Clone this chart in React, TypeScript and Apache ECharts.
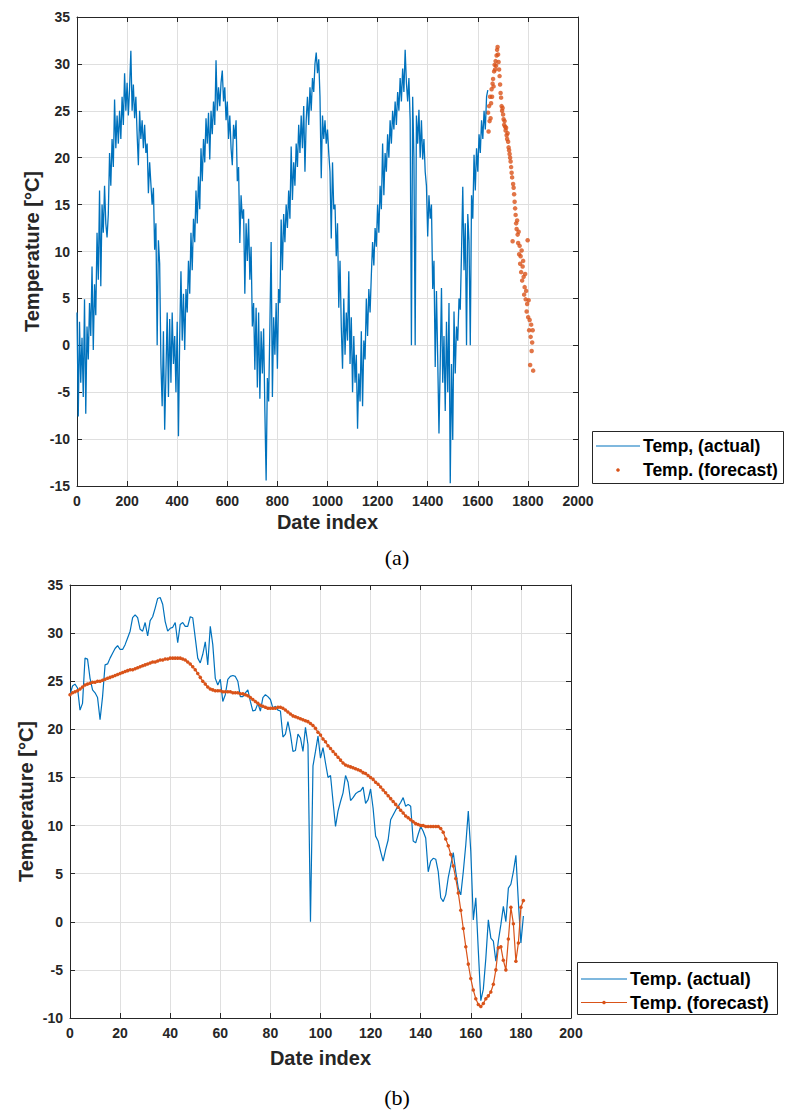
import React, { useEffect, useRef } from "react";
import * as echarts from "echarts";

// ---------- (a) actual temperature, one value every 5 date indices from 0 ----------
const ACTUAL_A_STEP = 5;
const actualA: number[] = [
  // 0 - 95
  3.5, -7.6, 2.5, -4.0, 0.8, -5.5, 4.9, -7.3, 2.0, -1.5, 4.5, 1.0, 8.4, -0.5, 6.5, 3.2, 12.0, 7.0, 16.5, 6.3,
  // 100 - 195
  15.0, 12.0, 17.0, 13.0, 11.5, 14.0, 20.5, 17.0, 22.0, 19.0, 26.2, 21.0, 24.5, 21.5, 25.0, 22.0, 26.5, 23.5, 29.0, 25.0,
  // 200 - 295
  28.0, 24.5, 27.5, 31.4, 25.0, 27.8, 24.2, 26.5, 22.5, 19.2, 25.0, 22.0, 24.0, 21.0, 23.5, 20.5, 21.5, 16.2, 19.5, 17.2,
  // 300 - 395
  15.0, 16.8, 10.2, 13.0, 0.0, 11.2, 8.7, -2.0, -6.5, 1.5, -9.0, -3.0, 3.5, -5.5, 2.8, -4.0, 3.5, -2.0, 1.0, -5.0,
  // 400 - 495
  2.5, -9.7, 1.0, 7.9, 0.5, 5.5, -0.5, 6.0, 3.5, 9.0, 5.5, 12.0, 8.0, 13.5, 11.0, 16.5, 13.0, 18.0, 14.5, 21.0,
  // 500 - 595
  17.5, 22.0, 19.5, 24.2, 21.5, 24.8, 19.8, 25.0, 22.5, 26.0, 23.5, 30.4, 25.0, 27.5, 25.5, 28.0, 29.3, 26.0, 27.5, 24.0,
  // 600 - 695
  26.0, 22.0, 24.5, 21.0, 19.2, 23.5, 22.0, 24.0, 17.5, 19.0, 10.9, 16.0, 13.5, 14.5, 5.5, 13.0, 9.0, 13.5, 7.0, 10.5,
  // 700 - 795
  2.0, 4.5, -2.6, 4.0, -4.5, 3.5, -5.7, 1.5, -3.0, 1.8, -7.0, -14.4, -3.5, -6.0, 2.0, 11.0, -5.5, 3.0, -1.0, 4.5,
  // 800 - 895
  -2.5, 6.0, 4.5, 13.4, 8.0, 14.0, 11.0, 15.0, 12.5, 16.5, 13.5, 21.2, 15.5, 19.5, 17.0, 21.5, 19.0, 23.5, 20.5, 24.5,
  // 900 - 995
  21.0, 25.5, 18.5, 24.0, 26.5, 23.5, 27.5, 25.0, 28.5, 27.0, 30.0, 31.2, 29.0, 30.5, 26.5, 17.8, 24.5, 22.0, 24.0, 21.5,
  // 1000 - 1095
  23.0, 20.5, 18.5, 11.4, 19.5, 14.5, 15.0, 9.5, 13.0, 4.0, 9.0, 2.0, -2.5, 5.0, -1.0, 3.5, 0.5, 7.9, -2.0, 3.0,
  // 1100 - 1195
  -5.0, 1.0, -4.0, -1.0, -8.9, -3.0, -6.0, 1.5, -6.5, 0.5, -1.5, 5.0, 1.0, 6.0, 3.5, 7.5, 11.0, 8.5, 12.5, 10.5,
  // 1200 - 1295
  15.0, 12.0, 17.0, 14.5, 21.5, 16.0, 20.5, 18.5, 22.5, 20.0, 24.0, 21.5, 25.0, 23.0, 26.0, 23.5, 27.0, 25.0, 28.5, 26.0,
  // 1300 - 1395
  29.5, 27.0, 31.5, 28.0, 26.0, 28.5, 24.0, 0.0, 26.5, 20.0, 0.0, 24.5, 21.5, 25.1, 20.0, 24.0, 19.8, 22.0, 18.5, 17.0,
  // 1400 - 1495
  11.6, 16.0, 13.5, 15.0, 6.0, 9.0, -2.3, 5.8, -1.5, -9.4, -2.0, 6.1, -4.0, 1.0, -7.0, 2.5, -5.0, 4.5, -14.7, -2.0,
  // 1500 - 1595
  -10.1, 3.6, -3.0, 2.0, 0.5, 5.0, 3.8, 10.0, 16.9, 8.0, 13.0, 0.0, 14.0, 11.0, 0.0, 16.0, 13.5, 20.3, 16.5, 21.0,
  // 1600 - 1640
  18.5, 22.5, 20.5, 24.0, 22.0, 25.0, 23.0, 26.5, 27.2,
];

// ---------- (a) forecast dots, one every 2 date indices from 1641 ----------
const FORECAST_A_START = 1641;
const FORECAST_A_STEP = 2;
const forecastA: number[] = [
  24.8, 22.8, 25.5, 23.9, 26.5, 24.2, 25.8, 27.3, 26.5, 27.9,
  28.4, 27.6, 29.2, 29.9, 29.4, 30.3, 29.8, 30.9, 31.5, 31.8,
  31.0, 30.2, 29.4, 28.7, 27.8, 26.9, 26.4, 25.5, 25.0, 25.3,
  24.6, 24.1, 23.5, 23.9, 23.3, 22.9, 23.2, 22.4, 22.0, 22.6,
  21.7, 21.1, 20.8, 20.4, 20.0, 19.6, 19.0, 18.4, 17.9, 11.1,
  17.2, 16.8, 16.1, 15.3, 14.6, 13.9, 13.0, 12.4, 13.3, 11.8,
  10.9, 12.1, 9.7, 10.6, 8.7, 9.5, 7.8, 10.1, 6.9, 8.4,
  9.0, 7.3, 5.4, 6.2, 7.6, 4.9, 5.8, 3.6, 4.4, 11.2,
  3.0, 4.8, 1.6, 2.7, -2.1, 0.9, 2.2, -0.6, 0.3, 1.6,
  -2.7,
];

// ---------- (b) actual, date index 0..181 ----------
const actualB: number[] = [
  23.6, 24.5, 24.7, 24.3, 22.0, 22.7, 27.4, 27.3, 25.3, 24.1,
  23.8, 23.3, 21.0, 23.4, 26.7, 26.8, 27.4, 27.9, 28.4, 28.7,
  28.3, 28.3, 28.8, 29.5, 30.2, 31.6, 31.9, 31.6, 30.4, 30.2,
  31.1, 29.7, 31.3, 31.7, 32.6, 33.6, 33.7, 33.0, 31.2, 30.2,
  30.5, 30.6, 31.1, 29.0, 30.9, 31.1, 30.7, 30.7, 31.7, 31.6,
  29.5, 27.4, 26.9, 27.8, 29.1, 26.7, 30.7, 28.8, 25.3, 24.6,
  25.2, 22.9, 23.6, 25.2, 25.5, 25.6, 25.5, 25.0, 23.4, 23.4,
  23.8, 24.1, 22.9, 21.9, 22.0, 22.7, 21.9, 23.3, 23.6, 23.4,
  23.1, 22.2, 22.4, 22.0, 21.9, 19.2, 19.5, 20.8, 19.5, 17.7,
  17.8, 19.5, 19.1, 17.7, 20.2, 18.4, 0.0, 16.2, 17.7, 19.3,
  17.0, 18.1, 16.5, 15.0, 15.2, 12.5, 9.9, 11.5, 12.5, 13.4,
  15.2, 14.5, 12.6, 12.9, 13.3, 13.5, 13.6, 14.0, 12.3, 12.7,
  13.8, 11.8, 8.9, 8.4, 7.3, 6.3, 7.5, 8.5, 10.6, 11.1,
  11.6, 12.0, 12.4, 12.9, 12.0, 12.2, 12.0, 8.4, 8.2, 9.1,
  9.9, 9.4, 8.7, 5.2, 6.3, 6.6, 6.5, 5.2, 2.5, 2.1,
  2.8, 4.6, 5.9, 7.2, 5.2, 3.5, 2.8, 5.2, 8.0, 11.5,
  7.3, 0.2, 2.5, -3.0, -8.2, -7.0, -3.8, 0.2, -1.7, -2.0,
  -4.1, -2.0, -0.3, 1.6, 0.0, 3.5, 3.9, 5.2, 6.9, 2.0,
  -2.2, 0.6,
];

// ---------- (b) forecast, date index 0..181 ----------
const forecastB: number[] = [
  23.6, 23.8, 23.9, 24.0, 24.2, 24.4, 24.6, 24.7, 24.8, 24.9,
  24.9, 25.0, 25.0, 25.1, 25.2, 25.3, 25.4, 25.5, 25.6, 25.7,
  25.8, 25.9, 26.0, 26.1, 26.2, 26.2, 26.3, 26.4, 26.5, 26.6,
  26.7, 26.8, 26.9, 27.0, 27.0, 27.1, 27.2, 27.2, 27.3, 27.3,
  27.4, 27.4, 27.4, 27.4, 27.4, 27.3, 27.2, 27.0, 26.8, 26.5,
  26.2, 25.8, 25.4, 25.0, 24.7, 24.4, 24.2, 24.1, 24.0, 24.0,
  24.0, 23.9, 23.9, 23.9, 23.9, 23.8, 23.8, 23.8, 23.7, 23.7,
  23.6, 23.5, 23.3, 23.1, 22.9, 22.7, 22.5, 22.4, 22.3, 22.2,
  22.2, 22.2, 22.2, 22.3, 22.3, 22.2, 22.0, 21.8, 21.6, 21.4,
  21.3, 21.2, 21.1, 21.0, 20.9, 20.8, 20.6, 20.4, 20.1, 19.7,
  19.4, 19.0, 18.7, 18.3, 18.0, 17.7, 17.4, 17.1, 16.8, 16.5,
  16.3, 16.2, 16.1, 16.0, 15.9, 15.8, 15.7, 15.5, 15.4, 15.2,
  15.0, 14.8, 14.5, 14.3, 14.0, 13.7, 13.4, 13.1, 12.8, 12.5,
  12.2, 11.9, 11.6, 11.3, 11.0, 10.8, 10.6, 10.4, 10.2, 10.1,
  10.0, 10.0, 9.9, 9.9, 9.9, 9.9, 9.9, 9.9, 9.7, 9.3,
  8.6, 7.9, 7.0, 5.8, 4.5, 3.0, 1.2, -0.7, -2.6, -4.4,
  -5.9, -7.1, -8.0, -8.6, -8.8, -8.5, -8.0, -7.7, -7.3, -6.5,
  -5.0, -2.7, -2.6, -4.0, -5.0, -1.8, 1.5, -0.2, -4.1, -2.2,
  1.5, 2.2,
];

// ---------- axis ranges ----------
const xRangeA = [0, 2000, 200];
const yRangeA = [-15, 35, 5];
const xRangeB = [0, 200, 20];
const yRangeB = [-10, 35, 5];

const legendA = ["Temp, (actual)", "Temp. (forecast)"];
const legendB = ["Temp. (actual)", "Temp. (forecast)"];
const xTitle = "Date index";
const yTitle = "Temperature [°C]";

const BLUE = "#0072BD";
const ORANGE = "#D95319";
const AXIS = "#262626";
const GRID = "#dfdfdf";
const SANS = '"Liberation Sans", Arial, Helvetica, sans-serif';
const SERIF = '"Liberation Serif", "Times New Roman", serif';

const tickFont = {
  fontFamily: SANS,
  fontWeight: "bold" as const,
  fontSize: 14,
  color: AXIS,
};

function xAxis(grid: number, r: number[], top: boolean) {
  return {
    type: "value",
    gridIndex: grid,
    position: top ? "top" : "bottom",
    min: r[0],
    max: r[1],
    interval: r[2],
    axisLine: { show: true, onZero: false, lineStyle: { color: AXIS, width: 1 } },
    axisTick: { show: true, inside: true, length: 5, lineStyle: { color: AXIS } },
    axisLabel: top
      ? { show: false }
      : { ...tickFont, margin: 8, formatter: (v: number) => String(v) },
    splitLine: top ? { show: false } : { show: true, lineStyle: { color: GRID, width: 1 } },
  };
}

function yAxis(grid: number, r: number[], right: boolean) {
  return {
    type: "value",
    gridIndex: grid,
    position: right ? "right" : "left",
    min: r[0],
    max: r[1],
    interval: r[2],
    axisLine: { show: true, onZero: false, lineStyle: { color: AXIS, width: 1 } },
    axisTick: { show: true, inside: true, length: 5, lineStyle: { color: AXIS } },
    axisLabel: right
      ? { show: false }
      : { ...tickFont, margin: 7, formatter: (v: number) => String(v) },
    splitLine: right ? { show: false } : { show: true, lineStyle: { color: GRID, width: 1 } },
  };
}

function legendGraphics(
  box: { x: number; y: number; w: number; h: number },
  lineX1: number,
  lineX2: number,
  textX: number,
  row1: number,
  row2: number,
  names: string[],
  forecastLine: boolean,
  fontSize: number
) {
  const font = `bold ${fontSize}px ${SANS}`;
  const mid = (lineX1 + lineX2) / 2;
  const items: any[] = [
    {
      type: "rect",
      z: 100,
      shape: { x: box.x + 0.5, y: box.y + 0.5, width: box.w, height: box.h },
      style: { fill: "#ffffff", stroke: AXIS, lineWidth: 1 },
    },
    {
      type: "line",
      z: 101,
      shape: { x1: lineX1, y1: row1, x2: lineX2, y2: row1 },
      style: { stroke: BLUE, lineWidth: 1.2 },
    },
    {
      type: "text",
      z: 101,
      x: textX,
      y: row1,
      style: { text: names[0], font, fill: "#000000", textAlign: "left", textVerticalAlign: "middle" },
    },
    {
      type: "text",
      z: 101,
      x: textX,
      y: row2,
      style: { text: names[1], font, fill: "#000000", textAlign: "left", textVerticalAlign: "middle" },
    },
  ];
  if (forecastLine) {
    items.push({
      type: "line",
      z: 101,
      shape: { x1: lineX1, y1: row2, x2: lineX2, y2: row2 },
      style: { stroke: ORANGE, lineWidth: 1.2 },
    });
  }
  items.push({
    type: "circle",
    z: 102,
    shape: { cx: mid, cy: row2, r: 1.8 },
    style: { fill: ORANGE },
  });
  return items;
}

function titleGraphics(cx: number, xTitleY: number, yTitleX: number, cy: number) {
  const font = `bold 20px ${SANS}`;
  return [
    {
      type: "text",
      x: cx,
      y: xTitleY,
      style: { text: xTitle, font, fill: AXIS, textAlign: "center", textVerticalAlign: "middle" },
    },
    {
      type: "text",
      x: yTitleX,
      y: cy,
      rotation: Math.PI / 2,
      style: { text: yTitle, font, fill: AXIS, textAlign: "center", textVerticalAlign: "middle" },
    },
  ];
}

export default function App() {
  const ref = useRef<HTMLDivElement>(null);

  useEffect(() => {
    if (!ref.current) return;
    const chart = echarts.init(ref.current, undefined, { renderer: "svg" });

    const dataActualA = actualA.map((v, i) => [i * ACTUAL_A_STEP, v]);
    const dataForecastA = forecastA.map((v, i) => [FORECAST_A_START + i * FORECAST_A_STEP, v]);
    const dataActualB = actualB.map((v, i) => [i, v]);
    const dataForecastB = forecastB.map((v, i) => [i, v]);

    chart.setOption({
      animation: false,
      backgroundColor: "#ffffff",
      grid: [
        { left: 77, top: 17, width: 501, height: 469, containLabel: false },
        { left: 70, top: 585, width: 501, height: 433, containLabel: false },
      ],
      xAxis: [
        xAxis(0, xRangeA, false),
        xAxis(0, xRangeA, true),
        xAxis(1, xRangeB, false),
        xAxis(1, xRangeB, true),
      ],
      yAxis: [
        yAxis(0, yRangeA, false),
        yAxis(0, yRangeA, true),
        yAxis(1, yRangeB, false),
        yAxis(1, yRangeB, true),
      ],
      series: [
        {
          name: legendA[0],
          type: "line",
          xAxisIndex: 0,
          yAxisIndex: 0,
          data: dataActualA,
          showSymbol: false,
          lineStyle: { color: BLUE, width: 1.3 },
          itemStyle: { color: BLUE },
        },
        {
          name: legendA[1],
          type: "scatter",
          xAxisIndex: 0,
          yAxisIndex: 0,
          data: dataForecastA,
          symbolSize: 4.5,
          itemStyle: { color: ORANGE },
        },
        {
          name: legendB[0],
          type: "line",
          xAxisIndex: 2,
          yAxisIndex: 2,
          data: dataActualB,
          showSymbol: false,
          lineStyle: { color: BLUE, width: 1.2 },
          itemStyle: { color: BLUE },
        },
        {
          name: legendB[1] + " ",
          type: "line",
          xAxisIndex: 2,
          yAxisIndex: 2,
          data: dataForecastB,
          showSymbol: true,
          symbol: "circle",
          symbolSize: 3.5,
          lineStyle: { color: ORANGE, width: 1.2 },
          itemStyle: { color: ORANGE },
        },
      ],
      graphic: [
        ...titleGraphics(327.5, 522, 32, 251.5),
        ...titleGraphics(320.5, 1058, 26, 801.5),
        ...legendGraphics({ x: 592, y: 431, w: 191, h: 52 }, 596, 640, 643, 446, 470, legendA, false, 17.5),
        ...legendGraphics({ x: 577, y: 962, w: 200, h: 52 }, 581, 627, 630, 979, 1002.5, legendB, true, 18),
        {
          type: "text",
          x: 397,
          y: 557,
          style: { text: "(a)", font: `22px ${SERIF}`, fill: "#000000", textAlign: "center", textVerticalAlign: "middle" },
        },
        {
          type: "text",
          x: 397,
          y: 1097,
          style: { text: "(b)", font: `22px ${SERIF}`, fill: "#000000", textAlign: "center", textVerticalAlign: "middle" },
        },
      ],
    });

    return () => {
      chart.dispose();
    };
  }, []);

  return (
    <div
      ref={ref}
      style={{ position: "absolute", left: 0, top: 0, width: 791, height: 1112, background: "#ffffff" }}
    />
  );
}
